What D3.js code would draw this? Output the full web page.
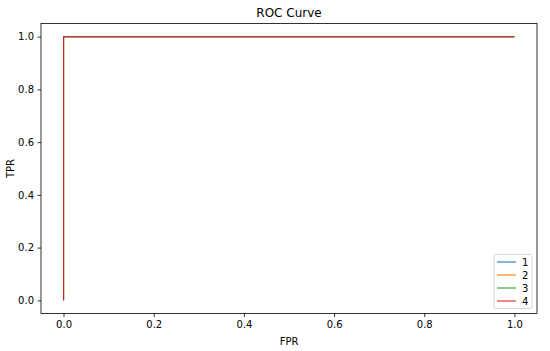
<!DOCTYPE html>
<html>
<head>
<meta charset="utf-8">
<script src="https://cdn.jsdelivr.net/npm/d3@7"></script>
<style>
  body { margin: 0; background: #fff; }
  text { font-family: "DejaVu Sans", sans-serif; }
</style>
</head>
<body>
<div id="chart"></div>
<script>
// ROC points per class (all classes perfect)
var seriesNames = ["1", "2", "3", "4"];
var seriesColors = ["#1f77b4", "#ff7f0e", "#2ca02c", "#d62728"];
var fpr = [
    [0, 0, 1],
    [0, 0, 1],
    [0, 0, 1],
    [0, 0, 1]
];
var tpr = [
    [0, 1, 1],
    [0, 1, 1],
    [0, 1, 1],
    [0, 1, 1]
];
var xTicks = [0, 0.2, 0.4, 0.6, 0.8, 1.0];
var yTicks = [0, 0.2, 0.4, 0.6, 0.8, 1.0];

var W = 550, H = 351;
var margin = { top: 23.5, right: 13, bottom: 37.5, left: 41 };
var width = W - margin.left - margin.right;
var height = H - margin.top - margin.bottom;

var svg = d3.select("#chart")
    .append("svg")
        .attr("width", W)
        .attr("height", H)
    .append("g")
        .attr("transform", "translate(" + margin.left + "," + margin.top + ")");

var xScale = d3.scaleLinear().domain([-0.05, 1.05]).range([0, width]);
var yScale = d3.scaleLinear().domain([-0.05, 1.05]).range([height, 0]);

// axes
var xAxis = svg.append("g")
    .attr("transform", "translate(0," + height + ")")
    .call(d3.axisBottom(xScale).tickValues(xTicks).tickFormat(d3.format(".1f")).tickSizeOuter(0).tickSize(3.5).tickPadding(3.5));
var yAxis = svg.append("g")
    .call(d3.axisLeft(yScale).tickValues(yTicks).tickFormat(d3.format(".1f")).tickSizeOuter(0).tickSize(3.5).tickPadding(3.5));
[xAxis, yAxis].forEach(function (a) {
    a.select(".domain").remove();
    a.selectAll("text").style("font-size", "10px").attr("fill", "#000");
    a.selectAll("line").attr("stroke", "#000").attr("stroke-width", 0.8);
});

// frame
svg.append("rect")
    .attr("width", width)
    .attr("height", height)
    .attr("fill", "none")
    .attr("stroke", "#000")
    .attr("stroke-width", 0.8);

// curves
var line = d3.line()
    .x(function (d) { return xScale(d.x); })
    .y(function (d) { return yScale(d.y); });

seriesNames.forEach(function (name, k) {
    var pts = fpr[k].map(function (v, i) { return { x: v, y: tpr[k][i] }; });
    svg.append("path")
        .datum(pts)
        .attr("d", line)
        .attr("fill", "none")
        .attr("stroke", seriesColors[k])
        .attr("stroke-width", 1.1);
});

// labels
svg.append("text")
    .attr("x", width / 2)
    .attr("y", -7)
    .attr("text-anchor", "middle")
    .style("font-size", "12px")
    .text("ROC Curve");

svg.append("text")
    .attr("x", width / 2)
    .attr("y", height + 31)
    .attr("text-anchor", "middle")
    .style("font-size", "10px")
    .text("FPR");

svg.append("text")
    .attr("transform", "rotate(-90)")
    .attr("x", -height / 2)
    .attr("y", -27)
    .attr("text-anchor", "middle")
    .style("font-size", "10px")
    .text("TPR");

// legend
var lg = svg.append("g")
    .attr("transform", "translate(" + (width - 43) + "," + (height - 59) + ")");
lg.append("rect")
    .attr("width", 38)
    .attr("height", 54)
    .attr("rx", 2)
    .attr("fill", "#fff")
    .attr("fill-opacity", 0.8)
    .attr("stroke", "#ccc")
    .attr("stroke-width", 0.8);
seriesNames.forEach(function (name, k) {
    var yy = 7.5 + k * 13;
    lg.append("line")
        .attr("x1", 3).attr("x2", 22)
        .attr("y1", yy).attr("y2", yy)
        .attr("stroke", seriesColors[k])
        .attr("stroke-width", 1.1);
    lg.append("text")
        .attr("x", 28)
        .attr("y", yy + 3.5)
        .style("font-size", "10px")
        .text(name);
});
</script>
</body>
</html>
